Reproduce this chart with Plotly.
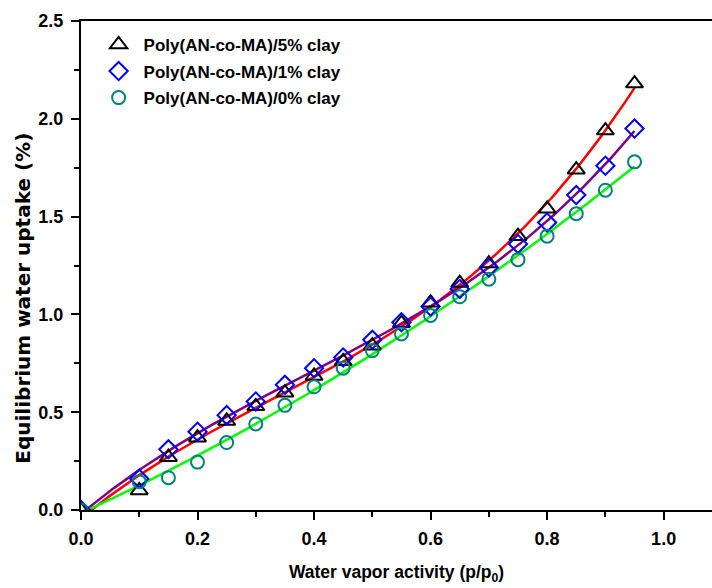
import numpy as np
import plotly.graph_objects as go

activity = [0.0, 0.1, 0.15, 0.2, 0.25, 0.3, 0.35, 0.4, 0.45, 0.5, 0.55, 0.6, 0.65, 0.7, 0.75, 0.8, 0.85, 0.9, 0.95]
clay5 = [0.0, 0.10, 0.27, 0.37, 0.455, 0.53, 0.60, 0.685, 0.76, 0.84, 0.955, 1.06, 1.16, 1.26, 1.40, 1.54, 1.74, 1.94, 2.18]
clay1 = [0.0, 0.16, 0.31, 0.40, 0.485, 0.555, 0.64, 0.725, 0.78, 0.87, 0.96, 1.04, 1.13, 1.24, 1.36, 1.47, 1.61, 1.76, 1.95]
clay0 = [0.0, 0.145, 0.165, 0.245, 0.345, 0.44, 0.535, 0.63, 0.725, 0.815, 0.90, 0.995, 1.09, 1.18, 1.28, 1.40, 1.515, 1.635, 1.78]

names = ["Poly(AN-co-MA)/5% clay", "Poly(AN-co-MA)/1% clay", "Poly(AN-co-MA)/0% clay"]
series = [clay5, clay1, clay0]
symbols = ["triangle-up-open", "diamond-open", "circle-open"]
mcolors = ["#000000", "#0000FF", "#008080"]
msizes = [15, 14, 13]
fitcolors = ["#FF0000", "#800080", "#00FF00"]

xticks = [0, 0.2, 0.4, 0.6, 0.8, 1.0]
yticks = [0, 0.5, 1.0, 1.5, 2.0, 2.5]

fig = go.Figure()
xa = np.array(activity)
xf = np.linspace(0, max(activity), 200)
for ys, fc in zip(series, fitcolors):
    coef = np.polyfit(xa, np.array(ys), 3)
    fig.add_trace(go.Scatter(x=xf, y=np.polyval(coef, xf), mode="lines",
                             line=dict(color=fc, width=2.5), showlegend=False, hoverinfo="skip"))
for nm, ys, sym, mc, ms in zip(names, series, symbols, mcolors, msizes):
    fig.add_trace(go.Scatter(x=activity, y=ys, mode="markers", name="<b>" + nm + "</b>", legendgroup=nm,
                             marker=dict(symbol=sym, color=mc, size=ms, line=dict(width=2, color=mc))))

fam = "Liberation Sans, Arial, sans-serif"
fig.update_layout(
    width=712, height=588,
    margin=dict(l=81, r=0, t=21, b=78),
    plot_bgcolor="white", paper_bgcolor="white",
    font=dict(family=fam, size=17, color="black"),
    showlegend=True,
    legend=dict(x=0.02, y=0.988, xanchor="left", yanchor="top", bgcolor="rgba(0,0,0,0)",
                font=dict(family=fam, size=17, color="black"),
                itemwidth=40, tracegroupgap=1.5),
    xaxis=dict(range=[0, 1.083], tickvals=xticks,
               ticktext=["<b>%.1f</b>" % v for v in xticks],
               tickfont=dict(family=fam, size=18),
               ticks="outside", ticklen=8, tickwidth=2, tickcolor="black",
               ticklabelstandoff=3,
               minor=dict(dtick=0.1, tick0=0, ticks="outside", ticklen=5, tickwidth=2, tickcolor="black"),
               showline=True, linewidth=2, linecolor="black", mirror=True,
               showgrid=False, zeroline=False,
               title=dict(text="<b>Water vapor activity (p/p<sub>0</sub>)</b>",
                          font=dict(family=fam, size=17.5), standoff=18)),
    yaxis=dict(range=[0, 2.5], tickvals=yticks,
               ticktext=["<b>%.1f</b>" % v for v in yticks],
               tickfont=dict(family=fam, size=18),
               ticks="outside", ticklen=8, tickwidth=2, tickcolor="black",
               ticklabelstandoff=4,
               minor=dict(dtick=0.25, tick0=0, ticks="outside", ticklen=5, tickwidth=2, tickcolor="black"),
               showline=True, linewidth=2, linecolor="black", mirror=False,
               showgrid=False, zeroline=False),
    annotations=[dict(text="<b>Equilibrium water uptake (%)</b>", textangle=-90,
                      xref="paper", yref="paper", x=-0.092, y=0.434,
                      xanchor="center", yanchor="middle", showarrow=False,
                      font=dict(family="DejaVu Sans, sans-serif", size=20, color="black"))],
)
fig.write_html("out.html")
